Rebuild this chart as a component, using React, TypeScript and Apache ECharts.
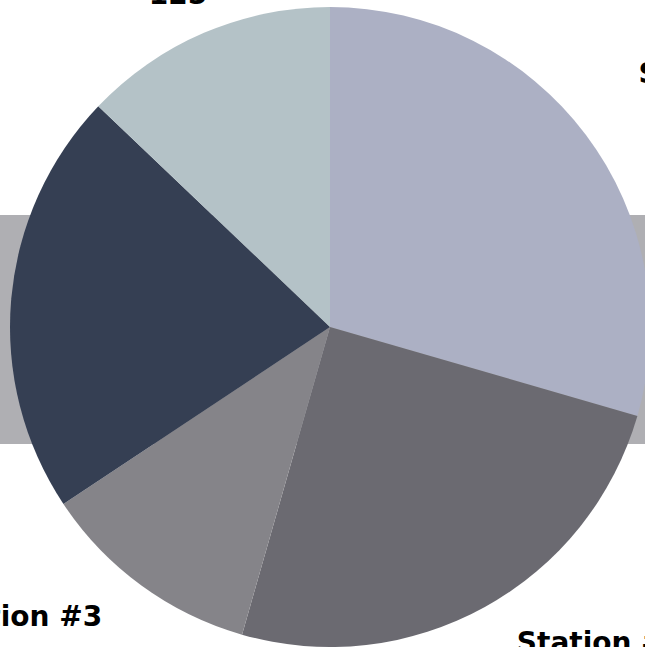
import React, { useEffect, useRef } from "react";
import * as echarts from "echarts";

const categories = ["Station #1", "Station #2", "Station #3", "Station #4", "Station #5"];
const values = [286, 242, 109, 208, 125];
const colors = ["#acb0c4", "#6b6a71", "#858489", "#353f53", "#b4c2c7"];
const labelAligns = ["left", "left", "right", "right", "center"];

export default function App() {
  const ref = useRef<HTMLDivElement>(null);
  useEffect(() => {
    if (!ref.current) return;
    const chart = echarts.init(ref.current, null, { renderer: "svg" });
    const textBase = {
      fontFamily: "DejaVu Sans",
      fontWeight: "bold",
      fontSize: 28,
      lineHeight: 44,
      color: "#000000",
      align: "center",
    };
    chart.setOption({
      animation: false,
      backgroundColor: "#ffffff",
      graphic: [
        {
          type: "rect",
          z: -10,
          silent: true,
          shape: { x: 0, y: 215, width: 645, height: 229 },
          style: { fill: "#afafb3" },
        },
      ],
      series: [
        {
          type: "pie",
          center: [330, 327],
          radius: 320,
          startAngle: 90,
          clockwise: true,
          avoidLabelOverlap: false,
          label: {
            show: true,
            position: "outside",
            formatter: "{n|{b}}\n{v|{c}}",
            fontFamily: "DejaVu Sans",
            fontWeight: "bold",
            fontSize: 28,
            lineHeight: 44,
            color: "#000000",
            distanceToLabelLine: 0,
            rich: { n: textBase, v: textBase },
          },
          labelLine: { show: false, length: 66, length2: 0 },
          labelLayout: (p: any) => ({ align: labelAligns[p.dataIndex] }),
          itemStyle: { borderWidth: 0 },
          emphasis: { disabled: true },
          data: categories.map((name, i) => ({
            name,
            value: values[i],
            itemStyle: { color: colors[i] },
          })),
        },
      ],
    });
    return () => chart.dispose();
  }, []);
  return (
    <div
      ref={ref}
      style={{ position: "fixed", left: 0, top: 0, width: 645, height: 647 }}
    />
  );
}
